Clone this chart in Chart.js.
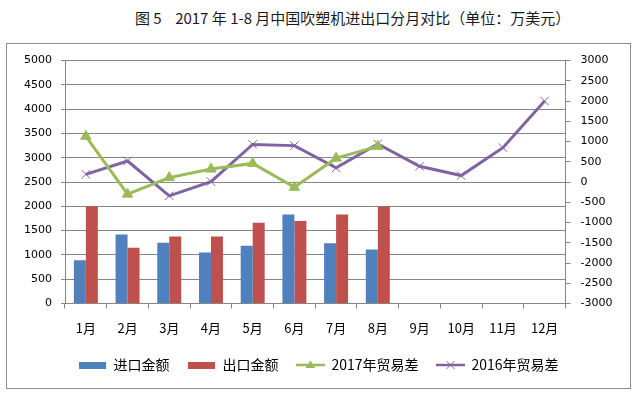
<!DOCTYPE html>
<html>
<head>
<meta charset="utf-8">
<script src="https://cdn.jsdelivr.net/npm/chart.js@4"></script>
<style>
  body { margin: 0; background: #fff; }
  #title {
    position: absolute; left: 135px; top: 7px;
    font: 15px "Noto Sans CJK SC", sans-serif; color: #1a1a1a;
    white-space: pre;
  }
  #box {
    position: absolute; left: 6px; top: 43px;
    width: 623px; height: 344px;
    border: 1px solid #8c8c8c;
  }
</style>
</head>
<body>
<div id="title">图 5    2017 年 1-8 月中国吹塑机进出口分月对比（单位：万美元）</div>
<div id="box"><canvas id="chart" width="623" height="344"></canvas></div>
<script>
// 月份
const months = ['1月', '2月', '3月', '4月', '5月', '6月', '7月', '8月', '9月', '10月', '11月', '12月'];

// 2017年进出口金额（万美元），左轴
const importValues = [890, 1420, 1250, 1050, 1190, 1830, 1240, 1110];
const exportValues = [2000, 1150, 1380, 1380, 1660, 1700, 1830, 2000];

// 贸易差，右轴
const balance2017 = [1130, -300, 110, 320, 460, -130, 590, 880, null, null, null, null];
const balance2016 = [190, 520, -340, 10, 930, 900, 350, 940, 390, 160, 850, 2000];

const seriesNames = ['进口金额', '出口金额', '2017年贸易差', '2016年贸易差'];

const BLUE = '#4f81bd';
const RED = '#c0504d';
const GREEN = '#9bbb59';
const PURPLE = '#8064a2';
const GRID = '#868686';

// 图例小图标
function boxIcon(color) {
    const c = document.createElement('canvas');
    c.width = 27; c.height = 7;
    const g = c.getContext('2d');
    g.fillStyle = color;
    g.fillRect(0, 0, 27, 7);
    return c;
}
function lineIcon(color, marker) {
    const c = document.createElement('canvas');
    c.width = 29; c.height = 12;
    const g = c.getContext('2d');
    g.strokeStyle = color;
    g.lineWidth = 2.5;
    g.beginPath(); g.moveTo(0, 6); g.lineTo(29, 6); g.stroke();
    if (marker === 'triangle') {
        g.fillStyle = color;
        g.beginPath(); g.moveTo(14.5, 1.5); g.lineTo(19.5, 9); g.lineTo(9.5, 9); g.closePath(); g.fill();
    } else {
        g.lineWidth = 1;
        g.beginPath();
        g.moveTo(10.5, 2); g.lineTo(18.5, 10);
        g.moveTo(18.5, 2); g.lineTo(10.5, 10);
        g.stroke();
    }
    return c;
}
const legendIcons = [boxIcon(BLUE), boxIcon(RED), lineIcon(GREEN, 'triangle'), lineIcon(PURPLE, 'cross')];

const tickFont = { family: 'DejaVu Sans', size: 11 };
const plainTick = (v) => String(v);

const ctx = document.getElementById('chart').getContext('2d');
const chart = new Chart(ctx, {
    type: 'bar',
    data: {
        labels: months,
        datasets: [{
            label: seriesNames[0],
            data: importValues,
            backgroundColor: BLUE,
            yAxisID: 'y',
            order: 1
        }, {
            label: seriesNames[1],
            data: exportValues,
            backgroundColor: RED,
            yAxisID: 'y',
            order: 1
        }, {
            type: 'line',
            label: seriesNames[2],
            data: balance2017,
            borderColor: GREEN,
            backgroundColor: GREEN,
            borderWidth: 3,
            pointStyle: 'triangle',
            pointRadius: 6,
            pointBorderWidth: 1,
            tension: 0,
            yAxisID: 'y2',
            order: 0
        }, {
            type: 'line',
            label: seriesNames[3],
            data: balance2016,
            borderColor: PURPLE,
            backgroundColor: PURPLE,
            borderWidth: 3,
            pointStyle: 'crossRot',
            pointRadius: 6,
            pointBorderWidth: 1,
            tension: 0,
            yAxisID: 'y2',
            order: 0
        }]
    },
    options: {
        responsive: false,
        animation: false,
        layout: { padding: { top: 15, bottom: 6, left: 0, right: 0 } },
        datasets: {
            bar: { categoryPercentage: 0.575, barPercentage: 1 }
        },
        scales: {
            x: {
                offset: true,
                grid: { drawOnChartArea: false, drawTicks: true, tickLength: 5, color: GRID, offset: true },
                border: { color: GRID },
                ticks: { color: '#000', padding: 12, font: { family: 'Noto Sans CJK SC', size: 13 }, maxRotation: 0, autoSkip: false },
                afterFit: (s) => { s.height = 36.5; }
            },
            y: {
                position: 'left',
                min: 0, max: 5000,
                ticks: { stepSize: 500, color: '#000', padding: 9, font: tickFont, callback: plainTick },
                grid: { color: GRID, tickLength: 4 },
                border: { color: GRID },
                afterFit: (s) => { s.width = 58; }
            },
            y2: {
                position: 'right',
                min: -3000, max: 3000,
                ticks: { stepSize: 500, color: '#000', padding: 10, font: tickFont, callback: plainTick },
                grid: { drawOnChartArea: false, color: GRID, tickLength: 5 },
                border: { color: GRID },
                afterFit: (s) => { s.width = 64.5; }
            }
        },
        plugins: {
            legend: {
                position: 'bottom',
                labels: {
                    usePointStyle: true,
                    pointStyleWidth: 28,
                    padding: 18,
                    color: '#000',
                    font: { family: 'Noto Sans CJK SC', size: 14 },
                    sort: (a, b) => a.datasetIndex - b.datasetIndex,
                    generateLabels: (c) => {
                        const items = Chart.defaults.plugins.legend.labels.generateLabels(c);
                        items.forEach((it) => { it.pointStyle = legendIcons[it.datasetIndex]; });
                        return items;
                    }
                }
            },
            tooltip: { enabled: false }
        }
    }
});
</script>
</body>
</html>
